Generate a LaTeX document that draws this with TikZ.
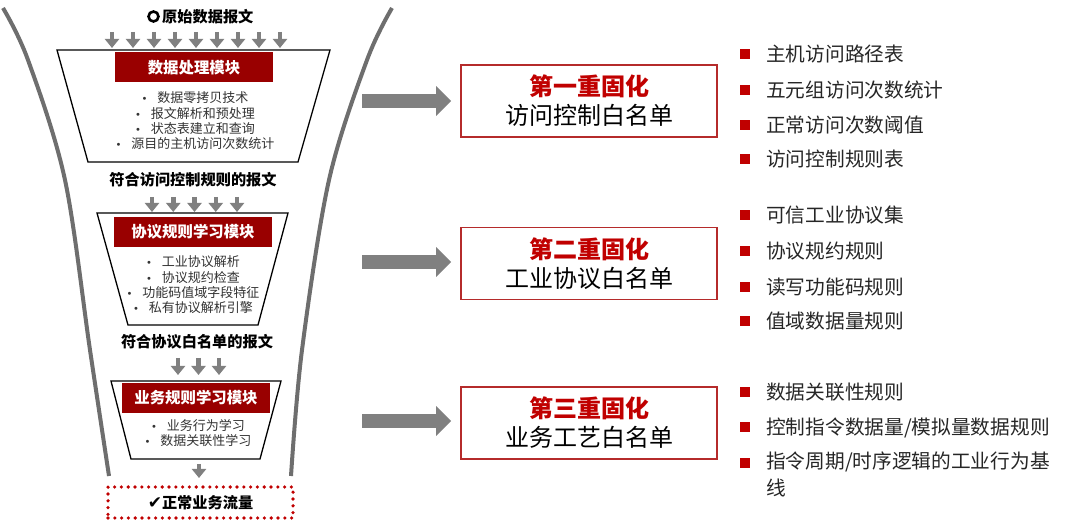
\documentclass[tikz,border=0pt]{standalone}
\usepackage{fontspec}
\setmainfont{Noto Sans CJK SC}
\newfontfamily\symfont{DejaVu Sans}
\usetikzlibrary{arrows.meta}
\definecolor{funnelgray}{HTML}{6E6E6E}
\definecolor{arrowgray}{HTML}{808080}
\definecolor{modred}{HTML}{990000}
\definecolor{boxred}{HTML}{B52B2B}
\definecolor{titlered}{HTML}{C00000}
\definecolor{txtgray}{HTML}{333333}
\definecolor{txtdark}{HTML}{262626}
\newcommand{\bul}{{\symfont\fontsize{10}{12}\selectfont •}\hspace{10pt}}
\begin{document}
\begin{tikzpicture}[x=1pt,y=-1pt,
  funnel/.style={draw=funnelgray,line width=4pt},
  smallarrow/.style={draw=arrowgray,line width=4.5pt,-{Triangle[width=14pt,length=9pt]}},
  bigarrow/.style={draw=arrowgray,line width=14pt,-{Triangle[width=29pt,length=15pt]},shorten >=9pt},
  trap/.style={draw=black,line width=1.3pt,fill=white},
  modbox/.style={fill=modred,text=white,inner sep=0pt,minimum height=30pt,
    font=\fontsize{15.4}{18}\selectfont\bfseries},
  bullets/.style={align=center,text=txtgray,inner sep=0pt,font=\fontsize{13}{15.3}\selectfont},
  flowlabel/.style={inner sep=0pt,text=black,font=\fontsize{15.2}{18}\selectfont\bfseries},
  ringmark/.style={circle,draw=black,line width=2.6pt,minimum size=10pt,inner sep=0pt},
  okbox/.style={draw=titlered,line width=3.6pt,dash pattern=on 0pt off 6.8pt,line cap=round,
    minimum width=185pt,minimum height=31pt,inner sep=0pt,font=\fontsize{15.2}{18}\selectfont\bfseries},
  stagebox/.style={draw=boxred,line width=1.8pt,minimum width=256pt,minimum height=72pt,
    align=center,inner sep=0pt,font=\fontsize{24}{29}\selectfont,text=black},
  sqmark/.style={fill=titlered,minimum size=10pt,inner sep=0pt},
  itemtxt/.style={anchor=west,inner sep=0pt,text=txtdark,align=left,font=\fontsize{19.7}{27}\selectfont}
]
\useasboundingbox (0,0) rectangle (1080,521);

% funnel outline
\draw[funnel] plot[smooth,tension=0.55] coordinates {(3,8) (28,60) (65,180) (90,350) (109,476)};
\draw[funnel] plot[smooth,tension=0.55] coordinates {(392,8) (367,60) (329,180) (302,350) (291,476)};

% top label
\node[ringmark] (ring) at (153.5,16.5) {};
\node[flowlabel,anchor=west] (l0) at (162,16.5) {原始数据报文};

% arrows row 1
\foreach \i in {0,...,8}{
  \coordinate (a1s\i) at (112+21*\i,32);
  \coordinate (a1e\i) at (112+21*\i,48);
  \draw[smallarrow] (a1s\i) -- (a1e\i);
}

% stage 1
\draw[trap] (57,50) -- (330,50) -- (298,162) -- (88,162) -- cycle;
\node[modbox,minimum width=158pt] (m1) at (194,67.5) {数据处理模块};
\node[bullets] (b1) at (195,121) {\bul 数据零拷贝技术\\\bul 报文解析和预处理\\\bul 状态表建立和查询\\\bul 源目的主机访问次数统计};

\node[flowlabel] (l1) at (193,180) {符合访问控制规则的报文};

% arrows row 2
\foreach \i in {0,...,4}{
  \coordinate (a2s\i) at (152+21.25*\i,197);
  \coordinate (a2e\i) at (152+21.25*\i,212);
  \draw[smallarrow] (a2s\i) -- (a2e\i);
}

% stage 2
\draw[trap] (97,213) -- (288,213) -- (258,325) -- (128,325) -- cycle;
\node[modbox,minimum width=158pt] (m2) at (193,232) {协议规则学习模块};
\node[bullets] (b2) at (193,285) {\bul 工业协议解析\\\bul 协议规约检查\\\bul 功能码值域字段特征\\\bul 私有协议解析引擎};

\node[flowlabel] (l2) at (197,342) {符合协议白名单的报文};

% arrows row 3
\foreach \i in {0,...,2}{
  \coordinate (a3s\i) at (178+20.5*\i,358);
  \coordinate (a3e\i) at (178+20.5*\i,375);
  \draw[smallarrow] (a3s\i) -- (a3e\i);
}

% stage 3
\draw[trap] (111,381) -- (281,381) -- (260,459) -- (131,459) -- cycle;
\node[modbox,minimum width=148pt] (m3) at (196,398) {业务规则学习模块};
\node[bullets] (b3) at (198,433) {\bul 业务行为学习\\\bul 数据关联性学习};

% output
\coordinate (a4s) at (199,464);
\coordinate (a4e) at (199,478);
\node[okbox] (ok) at (200.5,502.5) {{\symfont\bfseries\fontsize{17}{18}\selectfont ✔}正常业务流量};
\draw[smallarrow] (a4s) -- (a4e);

% stage boxes
\node[stagebox] (w1) at (589,101) {{\color{titlered}\bfseries 第一重固化}\\访问控制白名单};
\node[stagebox] (w2) at (589,263.5) {{\color{titlered}\bfseries 第二重固化}\\工业协议白名单};
\node[stagebox] (w3) at (589,423) {{\color{titlered}\bfseries 第三重固化}\\业务工艺白名单};

\coordinate (s1) at (362,101);
\coordinate (s2) at (362,262);
\coordinate (s3) at (362,421);
\draw[bigarrow] (s1) -- (w1.west);
\draw[bigarrow] (s2) -- (w2.west |- s2);
\draw[bigarrow] (s3) -- (w3.west |- s3);

% lists
\node[sqmark] (q11) at (745,54) {};
\node[itemtxt] (t11) at (766,54) {主机访问路径表};
\node[sqmark] (q12) at (745,90) {};
\node[itemtxt] (t12) at (766,90) {五元组访问次数统计};
\node[sqmark] (q13) at (745,125) {};
\node[itemtxt] (t13) at (766,125) {正常访问次数阈值};
\node[sqmark] (q14) at (745,159.5) {};
\node[itemtxt] (t14) at (766,159.5) {访问控制规则表};

\node[sqmark] (q21) at (745,215) {};
\node[itemtxt] (t21) at (766,215) {可信工业协议集};
\node[sqmark] (q22) at (745,251) {};
\node[itemtxt] (t22) at (766,251) {协议规约规则};
\node[sqmark] (q23) at (745,287) {};
\node[itemtxt] (t23) at (766,287) {读写功能码规则};
\node[sqmark] (q24) at (745,321.5) {};
\node[itemtxt] (t24) at (766,321.5) {值域数据量规则};

\node[sqmark] (q31) at (745,392) {};
\node[itemtxt] (t31) at (766,392) {数据关联性规则};
\node[sqmark] (q32) at (745,427.5) {};
\node[itemtxt] (t32) at (766,427.5) {控制指令数据量/模拟量数据规则};
\node[sqmark] (q33) at (745,463) {};
\node[itemtxt,anchor=north west] (t33) at (766,452) {指令周期/时序逻辑的工业行为基\\线};
\end{tikzpicture}
\end{document}
